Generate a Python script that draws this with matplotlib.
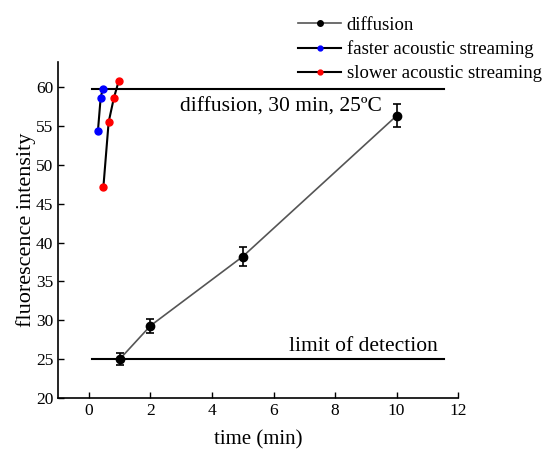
import matplotlib
matplotlib.use("Agg")
import matplotlib.pyplot as plt
from matplotlib.lines import Line2D

plt.rcParams['font.family'] = ['Liberation Serif', 'DejaVu Serif']

diff_t = [1, 2, 5, 10]
diff_y = [25.0, 29.3, 38.2, 56.3]
diff_err = [0.8, 0.9, 1.2, 1.5]

fast_t = [0.29, 0.38, 0.45]
fast_y = [54.3, 58.6, 59.8]

slow_t = [0.47, 0.64, 0.81, 0.97]
slow_y = [47.2, 55.5, 58.6, 60.8]

ref_top = 59.7
ref_lod = 25.0
ref_x = [0.1, 11.55]

labels = ['diffusion', 'faster acoustic streaming', 'slower acoustic streaming']

fig = plt.figure(figsize=(5.44, 4.57), dpi=100)
ax = fig.add_axes([0.107, 0.129, 0.735, 0.735])

ax.plot(ref_x, [ref_top, ref_top], color='black', lw=1.5)
ax.plot(ref_x, [ref_lod, ref_lod], color='black', lw=1.5)

ax.errorbar(diff_t, diff_y, yerr=diff_err, color='#555555', lw=1.2,
            marker='o', ms=6, mfc='black', mec='black', ecolor='black',
            capsize=3, elinewidth=1.2, capthick=1.2)
ax.plot(fast_t, fast_y, color='black', lw=1.5, marker='o', ms=5,
        mfc='blue', mec='blue')
ax.plot(slow_t, slow_y, color='black', lw=1.5, marker='o', ms=5,
        mfc='red', mec='red')

ax.text(6.23, 57.4, 'diffusion, 30 min, 25ºC', fontsize=15.5, ha='center', va='center')
ax.text(8.92, 26.6, 'limit of detection', fontsize=15.5, ha='center', va='center')

ax.set_xlim(-1, 12)
ax.set_ylim(20, 63.2)
ax.set_xticks([0, 2, 4, 6, 8, 10, 12])
ax.set_yticks([20, 25, 30, 35, 40, 45, 50, 55, 60])
ax.tick_params(direction='in', labelsize=12.5, length=4, width=1)
for s in ['top', 'right']:
    ax.spines[s].set_visible(False)
for s in ['left', 'bottom']:
    ax.spines[s].set_linewidth(1.2)

ax.set_xlabel('time (min)', fontsize=15, labelpad=8)
ax.set_ylabel('fluorescence intensity', fontsize=16, labelpad=0)

handles = [
    Line2D([], [], color='#555555', lw=1.2, marker='o', ms=4, mfc='black', mec='black'),
    Line2D([], [], color='black', lw=1.5, marker='o', ms=3.5, mfc='blue', mec='blue'),
    Line2D([], [], color='black', lw=1.5, marker='o', ms=3.5, mfc='red', mec='red'),
]
fig.legend(handles=handles, labels=labels, loc='upper left', bbox_to_anchor=(0.517, 1.0),
           frameon=False, fontsize=13.5, handlelength=2.3, handletextpad=0.3,
           labelspacing=0.35)

fig.savefig('out.png', dpi=100)
